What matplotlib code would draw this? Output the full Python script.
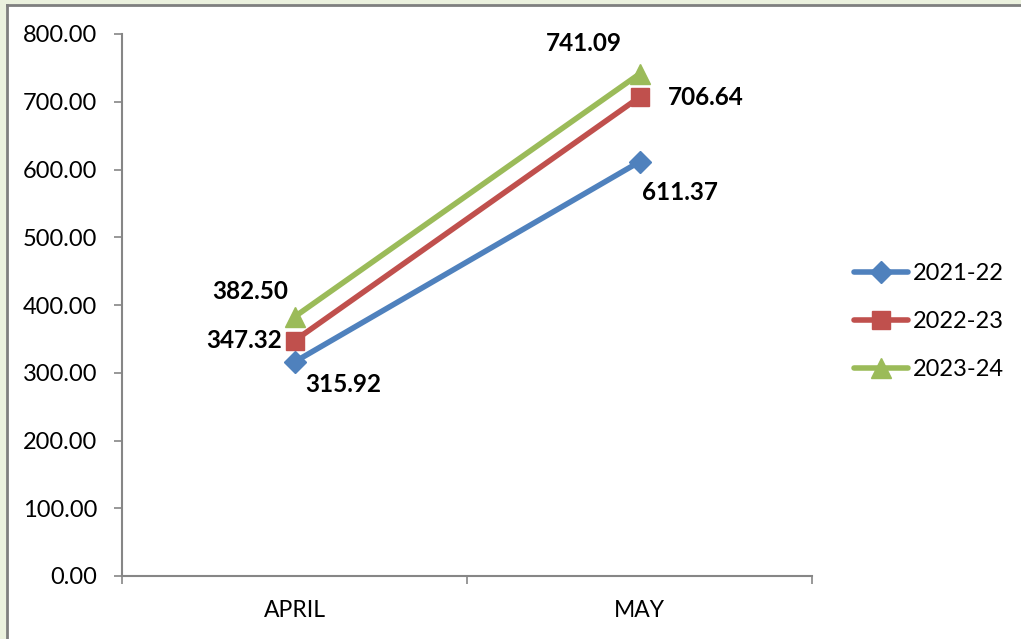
import numpy as np
import matplotlib.pyplot as plt
from matplotlib.patches import Rectangle
from matplotlib.lines import Line2D

months = ['APRIL', 'MAY']
series = ['2021-22', '2022-23', '2023-24']
v2122 = [315.92, 611.37]
v2223 = [347.32, 706.64]
v2324 = [382.50, 741.09]
yticks = [0, 100, 200, 300, 400, 500, 600, 700, 800]

colors = ['#4F81BD', '#C0504D', '#9BBB59']
markers = ['D', 's', '^']
msizes = [11, 13, 15]
# label offsets in points (x, y) for April, May
offsets = [[(35, -16), (29, -22)],
           [(-36, 0), (48, 0)],
           [(-32, 18), (-40, 22)]]

plt.rcParams['font.family'] = ['Lato', 'DejaVu Sans']

fig = plt.figure(figsize=(10.21, 6.39), dpi=100)
fig.patch.set_facecolor('#EBF1DE')
# white chart area with gray top/left border
W, H = 1021, 639
fig.patches.append(Rectangle((7 / W, 0), 1, 1 - 5 / H, transform=fig.transFigure,
                             facecolor='white', edgecolor='none', zorder=-5))
fig.lines.append(Line2D([7 / W, 1], [1 - 5 / H, 1 - 5 / H], transform=fig.transFigure,
                        color='#7F7F7F', lw=2, zorder=-4))
fig.lines.append(Line2D([7 / W, 7 / W], [0, 1 - 5 / H], transform=fig.transFigure,
                        color='#7F7F7F', lw=2, zorder=-4))

ax = fig.add_axes([122 / W, 1 - 576 / H, (812 - 122) / W, (576 - 34) / H])
ax.set_facecolor('none')

x = np.arange(len(months))
data = [v2122, v2223, v2324]
for i, vals in enumerate(data):
    ax.plot(x, vals, color=colors[i], lw=4, marker=markers[i], ms=msizes[i],
            label=series[i], solid_capstyle='round', zorder=3)
    for j, v in enumerate(vals):
        ax.annotate('%.2f' % v, (x[j], v), xytext=offsets[i][j], textcoords='offset points',
                    ha='center', va='center', fontsize=17.5, fontweight='bold', color='black')

ax.set_xlim(-0.5, 1.5)
ax.set_ylim(0, 800)
ax.set_yticks(yticks)
ax.set_yticklabels(['%.2f' % t for t in yticks], fontsize=17)
ax.set_xticks([-0.5, 0.5, 1.5])
ax.set_xticklabels([])
ax.set_xticks(x, minor=True)
ax.set_xticklabels(months, minor=True, fontsize=16.5)
ax.tick_params(axis='x', which='minor', length=0, pad=17)
ax.tick_params(axis='both', which='major', length=6, width=1.2, color='#868686')
ax.tick_params(axis='y', pad=12)
for s in ['top', 'right']:
    ax.spines[s].set_visible(False)
for s in ['left', 'bottom']:
    ax.spines[s].set_color('#868686')
    ax.spines[s].set_linewidth(1.5)

leg = ax.legend(loc='center left', bbox_to_anchor=(1.03, 0.469), frameon=False, fontsize=17,
                handlelength=2.3, handletextpad=0.2, labelspacing=1.15)

fig.savefig('out.png', dpi=100, facecolor=fig.get_facecolor())
